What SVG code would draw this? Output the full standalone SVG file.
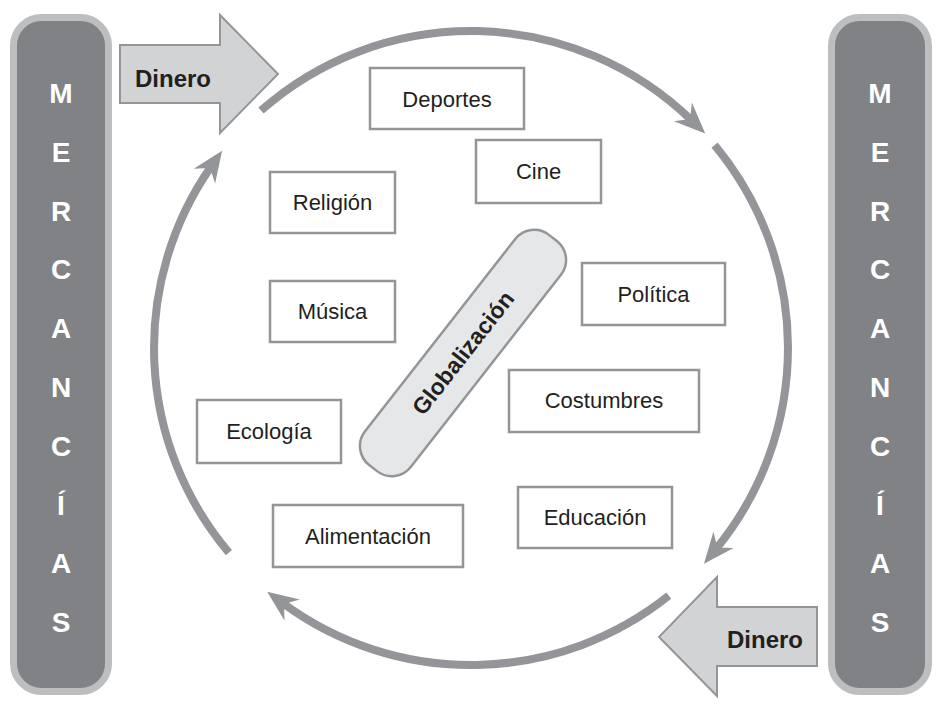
<svg xmlns="http://www.w3.org/2000/svg" width="948" height="706" viewBox="0 0 948 706">
<style>
.bar{fill:#808285;stroke:#bcbec0;stroke-width:7}
.let{font-family:"Liberation Sans",Arial,sans-serif;font-weight:bold;font-size:28px;fill:#ffffff;text-anchor:middle}
.box rect{fill:#ffffff;stroke:#939598;stroke-width:2.5}
.box text{font-family:"Liberation Sans",Arial,sans-serif;font-size:22px;fill:#231f20;text-anchor:middle}
.arc{fill:none;stroke:#939598;stroke-width:8}
.money polygon{fill:#d1d3d4;stroke:#939598;stroke-width:2}
.money text{font-family:"Liberation Sans",Arial,sans-serif;font-weight:bold;font-size:24px;fill:#231f20}
</style>
<defs>
<marker id="ah" markerUnits="userSpaceOnUse" viewBox="-32 -14 34 28" refX="-20" refY="0" markerWidth="34" markerHeight="28" orient="auto">
<path d="M0,0 L-31,-13 L-21,0 L-31,13 Z" fill="#939598"/>
</marker>
</defs>
<g id="mercancias-left">
<rect class="bar" x="13.5" y="17.5" width="95" height="674" rx="28"/>
<text class="let" x="61" y="103">M</text>
<text class="let" x="61" y="162">E</text>
<text class="let" x="61" y="221">R</text>
<text class="let" x="61" y="279">C</text>
<text class="let" x="61" y="338">A</text>
<text class="let" x="61" y="397">N</text>
<text class="let" x="61" y="456">C</text>
<text class="let" x="61" y="515">Í</text>
<text class="let" x="61" y="573">A</text>
<text class="let" x="61" y="632">S</text>
</g>
<g id="mercancias-right">
<rect class="bar" x="831.5" y="17.5" width="97" height="674" rx="28"/>
<text class="let" x="880" y="103">M</text>
<text class="let" x="880" y="162">E</text>
<text class="let" x="880" y="221">R</text>
<text class="let" x="880" y="279">C</text>
<text class="let" x="880" y="338">A</text>
<text class="let" x="880" y="397">N</text>
<text class="let" x="880" y="456">C</text>
<text class="let" x="880" y="515">Í</text>
<text class="let" x="880" y="573">A</text>
<text class="let" x="880" y="632">S</text>
</g>
<g id="connectors">
<path class="arc" marker-end="url(#ah)" d="M261,110.6 A317,317 0 0 1 690.8,119.6"/>
<path class="arc" marker-end="url(#ah)" d="M714.6,145.1 A317,317 0 0 1 716.6,548.3"/>
<path class="arc" marker-end="url(#ah)" d="M668.8,595.7 A317,317 0 0 1 283.3,603.5"/>
<path class="arc" marker-end="url(#ah)" d="M228.9,552.6 A317,317 0 0 1 210.7,167.1"/>
</g>
<g id="dinero-top" class="money">
<polygon points="120,45 220,45 220,15 278,74 220,133 220,103 120,103"/>
<text x="135" y="87">Dinero</text>
</g>
<g id="dinero-bottom" class="money">
<polygon points="817,607 717,607 717,577 659,637 717,696 717,666 817,666"/>
<text x="727" y="648">Dinero</text>
</g>
<g id="deportes" class="box"><rect x="370" y="68" width="154" height="61"/><text x="447" y="107">Deportes</text></g>
<g id="cine" class="box"><rect x="476" y="140" width="125" height="63"/><text x="538.5" y="179">Cine</text></g>
<g id="religion" class="box"><rect x="270" y="172" width="125" height="61"/><text x="332.5" y="210">Religión</text></g>
<g id="politica" class="box"><rect x="582" y="263" width="143" height="62"/><text x="653.5" y="302">Política</text></g>
<g id="musica" class="box"><rect x="270" y="281" width="125" height="61"/><text x="332.5" y="319">Música</text></g>
<g id="costumbres" class="box"><rect x="509" y="370" width="190" height="62"/><text x="604" y="408">Costumbres</text></g>
<g id="ecologia" class="box"><rect x="197" y="400" width="144" height="63"/><text x="269" y="439">Ecología</text></g>
<g id="alimentacion" class="box"><rect x="273" y="505" width="190" height="62"/><text x="368" y="544">Alimentación</text></g>
<g id="educacion" class="box"><rect x="518" y="487" width="154" height="61"/><text x="595" y="525">Educación</text></g>
<g id="globalizacion" transform="translate(463,353) rotate(-52)">
<rect x="-146" y="-29" width="292" height="58" rx="24" fill="#e6e7e8" stroke="#939598" stroke-width="2.5"/>
<text x="0" y="8" font-family="'Liberation Sans',Arial,sans-serif" font-weight="bold" font-size="23" fill="#231f20" text-anchor="middle">Globalización</text>
</g>
</svg>
